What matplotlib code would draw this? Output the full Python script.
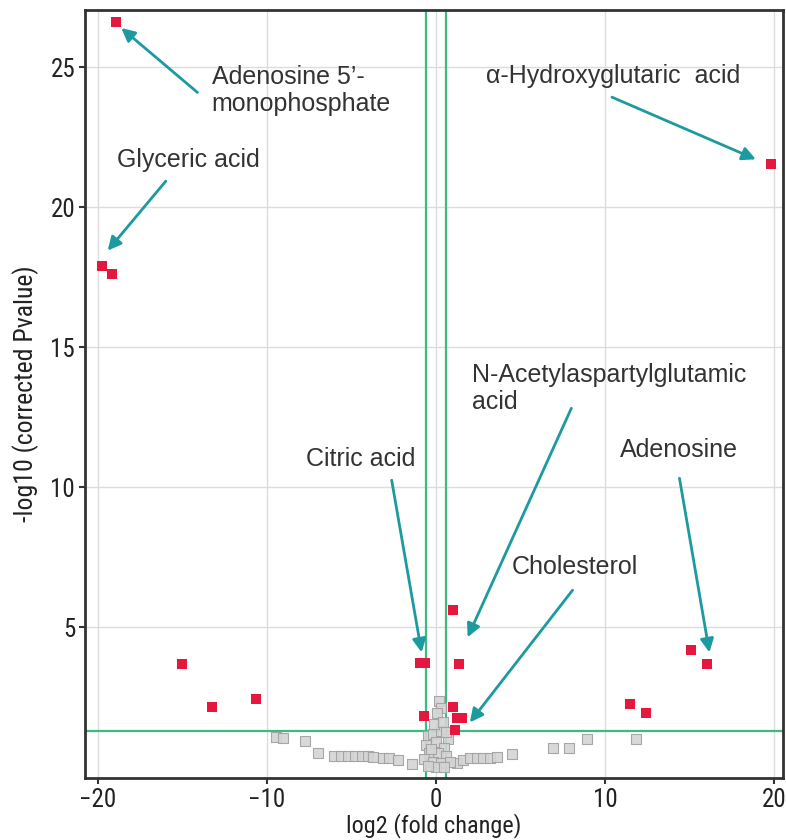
import matplotlib
matplotlib.use("Agg")
import matplotlib.pyplot as plt
from matplotlib import font_manager

# significant metabolites (red)
sig_fc = [-18.9, -19.75, -19.15, 19.8, -15.0, -13.25, -10.65, -0.95, -0.62,
          1.0, 1.35, -0.72, 1.0, 1.22, 1.52, 1.1, 11.45, 12.4, 15.1, 16.0]
sig_p = [26.6, 17.9, 17.6, 21.55, 3.68, 2.15, 2.45, 3.72, 3.72,
         5.62, 3.68, 1.82, 2.16, 1.76, 1.76, 1.34, 2.24, 1.92, 4.2, 3.67]

# non-significant metabolites (grey)
ns_fc = [-9.45, -9.05, -7.75, -7.0, -6.0, -5.6, -5.2, -4.8, -4.4, -4.0, -3.7,
         -3.15, -2.75, -2.25, -1.4, 1.25, 1.6, 2.0, 2.4, 2.8, 3.2, 3.6, 4.5,
         6.9, 7.85, 8.9, 11.8,
         0.2, 0.3, 0.05, -0.5, -0.2, 0.3, 0.7, -0.6, 0.0, 0.5, -0.4, 0.1,
         0.6, -0.7, -0.2, 0.3, 0.8, 0.0, -0.5, 0.5, -0.1, 0.4, -0.3, 0.6]
ns_p = [1.07, 1.05, 0.93, 0.5, 0.4, 0.4, 0.4, 0.4, 0.4, 0.4, 0.38,
        0.32, 0.32, 0.25, 0.1, 0.15, 0.25, 0.32, 0.32, 0.34, 0.34, 0.36, 0.46,
        0.68, 0.68, 1.0, 1.0,
        2.38, 2.1, 1.95, 1.1, 1.2, 1.3, 1.0, 0.8, 0.9, 0.7, 0.5, 0.5,
        0.4, 0.3, 0.2, 0.15, 0.2, 0.0, 0.05, 0.0, 1.55, 1.6, 0.65, 1.25]

fc_cut = 0.585   # log2(1.5)
p_cut = 1.301    # -log10(0.05)

labels = ["Adenosine 5\u2019-\nmonophosphate", "\u03b1-Hydroxyglutaric  acid",
          "Glyceric acid", "N-Acetylaspartylglutamic\nacid", "Citric acid",
          "Adenosine", "Cholesterol"]
text_xy = [(-13.25, 24.18), (2.97, 24.7), (-18.86, 21.68), (2.1, 13.52),
           (-7.69, 11.0), (10.85, 11.32), (4.47, 7.14)]
tail_xy = [(-14.1, 24.1), (10.4, 23.93), (-15.97, 20.93), (8.0, 12.82),
           (-2.62, 10.25), (14.39, 10.32), (8.07, 6.32)]
head_xy = [(-18.6, 26.4), (18.9, 21.71), (-19.4, 18.45), (1.87, 4.64),
           (-0.85, 4.1), (16.16, 4.1), (2.0, 1.6)]

green = "#3dba80"
teal = "#1b9aa0"

# pick a condensed face for the axis text if one is installed
installed = {f.name for f in font_manager.fontManager.ttflist}
narrow = [n for n in ["Liberation Sans Narrow", "DejaVu Sans Condensed",
                      "Roboto Condensed", "Open Sans Condensed"]
          if n in installed] + ["DejaVu Sans"]

fig = plt.figure(figsize=(7.86, 8.4), dpi=100)
ax = fig.add_axes([0.108, 0.074, 0.888, 0.914])

ax.grid(True, color="#dcdcdc", lw=1.0)
ax.set_axisbelow(True)

ax.axvline(-fc_cut, color=green, lw=1.6, zorder=1)
ax.axvline(fc_cut, color=green, lw=1.6, zorder=1)
ax.axhline(p_cut, color=green, lw=1.6, zorder=1)

ax.scatter(ns_fc, ns_p, marker="s", s=48, facecolor="#d4d4d4",
           edgecolor="#a0a0a0", lw=0.8, alpha=0.9, zorder=2)
ax.scatter(sig_fc, sig_p, marker="s", s=46, color="#e5173f", lw=0, zorder=3)

for lab, t, a, h in zip(labels, text_xy, tail_xy, head_xy):
    ax.text(t[0], t[1], lab, fontsize=18, color="#333333", ha="left",
            va="center", family=["Liberation Sans", "DejaVu Sans"],
            linespacing=1.15)
    ax.annotate("", xy=h, xytext=a,
                arrowprops=dict(arrowstyle="-|>", color=teal, lw=2,
                                mutation_scale=20, shrinkA=0, shrinkB=0))

ax.set_xlim(-20.75, 20.5)
ax.set_ylim(-0.38, 27.04)
ax.set_xticks([-20, -10, 0, 10, 20])
ax.set_xticklabels(["\u221220", "\u221210", "0", "10", "20"])
ax.set_yticks([5, 10, 15, 20, 25])

for sp in ax.spines.values():
    sp.set_color("#333333")
    sp.set_linewidth(2)
ax.tick_params(length=4, width=1.5, color="#333333", labelsize=18,
               labelcolor="#222222", pad=3)
for lb in ax.get_xticklabels() + ax.get_yticklabels():
    lb.set_family(narrow)
    lb.set_stretch("condensed")

ax.set_xlabel("log2 (fold change)", fontsize=17.5, family=narrow,
              stretch="condensed", color="#222222", labelpad=1)
ax.set_ylabel("-log10 (corrected Pvalue)", fontsize=18.5, family=narrow,
              stretch="condensed", color="#222222", labelpad=8)

fig.savefig("out.png", dpi=100)
